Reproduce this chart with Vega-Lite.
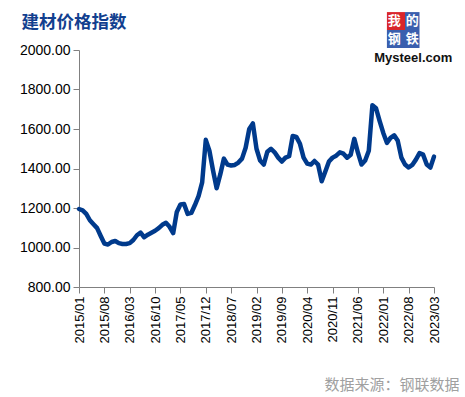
{
  "$schema": "https://vega.github.io/schema/vega-lite/v6.json",
  "width": 355,
  "height": 237,
  "autosize": {"type": "none"},
  "padding": {"left": 79, "top": 50, "right": 31, "bottom": 110},
  "background": "white",
  "title": {
    "text": "建材价格指数",
    "anchor": "start",
    "dx": 2,
    "offset": 0,
    "dy": 19,
    "font": "Noto Sans CJK SC",
    "fontSize": 17.5,
    "fontWeight": "bold",
    "color": "#123f8f"
  },
  "config": {
    "view": {"stroke": null},
    "axis": {"domainColor": "#808080", "tickColor": "#808080", "grid": false, "labelColor": "#000000", "labelFont": "Liberation Sans"}
  },
  "data": {"values": [
    {"m":"2015/01","v":1195},{"m":"2015/02","v":1188},{"m":"2015/03","v":1170},{"m":"2015/04","v":1138},
    {"m":"2015/05","v":1118},{"m":"2015/06","v":1098},{"m":"2015/07","v":1058},{"m":"2015/08","v":1020},
    {"m":"2015/09","v":1015},{"m":"2015/10","v":1028},{"m":"2015/11","v":1033},{"m":"2015/12","v":1022},
    {"m":"2016/01","v":1018},{"m":"2016/02","v":1018},{"m":"2016/03","v":1022},{"m":"2016/04","v":1038},
    {"m":"2016/05","v":1062},{"m":"2016/06","v":1075},{"m":"2016/07","v":1052},{"m":"2016/08","v":1065},
    {"m":"2016/09","v":1075},{"m":"2016/10","v":1085},{"m":"2016/11","v":1098},{"m":"2016/12","v":1115},
    {"m":"2017/01","v":1125},{"m":"2017/02","v":1105},{"m":"2017/03","v":1073},{"m":"2017/04","v":1180},
    {"m":"2017/05","v":1218},{"m":"2017/06","v":1220},{"m":"2017/07","v":1170},{"m":"2017/08","v":1175},
    {"m":"2017/09","v":1215},{"m":"2017/10","v":1260},{"m":"2017/11","v":1330},{"m":"2017/12","v":1545},
    {"m":"2018/01","v":1490},{"m":"2018/02","v":1390},{"m":"2018/03","v":1300},{"m":"2018/04","v":1370},
    {"m":"2018/05","v":1450},{"m":"2018/06","v":1420},{"m":"2018/07","v":1415},{"m":"2018/08","v":1418},
    {"m":"2018/09","v":1430},{"m":"2018/10","v":1450},{"m":"2018/11","v":1505},{"m":"2018/12","v":1600},
    {"m":"2019/01","v":1628},{"m":"2019/02","v":1500},{"m":"2019/03","v":1440},{"m":"2019/04","v":1420},
    {"m":"2019/05","v":1485},{"m":"2019/06","v":1500},{"m":"2019/07","v":1482},{"m":"2019/08","v":1455},
    {"m":"2019/09","v":1435},{"m":"2019/10","v":1455},{"m":"2019/11","v":1462},{"m":"2019/12","v":1565},
    {"m":"2020/01","v":1560},{"m":"2020/02","v":1525},{"m":"2020/03","v":1455},{"m":"2020/04","v":1425},
    {"m":"2020/05","v":1420},{"m":"2020/06","v":1438},{"m":"2020/07","v":1420},{"m":"2020/08","v":1335},
    {"m":"2020/09","v":1385},{"m":"2020/10","v":1435},{"m":"2020/11","v":1455},{"m":"2020/12","v":1465},
    {"m":"2021/01","v":1482},{"m":"2021/02","v":1475},{"m":"2021/03","v":1455},{"m":"2021/04","v":1470},
    {"m":"2021/05","v":1550},{"m":"2021/06","v":1480},{"m":"2021/07","v":1420},{"m":"2021/08","v":1440},
    {"m":"2021/09","v":1490},{"m":"2021/10","v":1720},{"m":"2021/11","v":1705},{"m":"2021/12","v":1640},
    {"m":"2022/01","v":1580},{"m":"2022/02","v":1530},{"m":"2022/03","v":1555},{"m":"2022/04","v":1568},
    {"m":"2022/05","v":1540},{"m":"2022/06","v":1455},{"m":"2022/07","v":1420},{"m":"2022/08","v":1405},
    {"m":"2022/09","v":1418},{"m":"2022/10","v":1445},{"m":"2022/11","v":1478},{"m":"2022/12","v":1470},
    {"m":"2023/01","v":1420},{"m":"2023/02","v":1405},{"m":"2023/03","v":1460}
  ]},
  "layer": [
    {
      "mark": {"type": "line", "color": "#003a8c", "strokeWidth": 4.5, "strokeJoin": "round", "strokeCap": "round"},
      "encoding": {
        "x": {
          "field": "m", "type": "ordinal", "sort": null,
          "scale": {"type": "point", "padding": 0},
          "axis": {
            "values": ["2015/01","2015/08","2016/03","2016/10","2017/05","2017/12","2018/07","2019/02","2019/09","2020/04","2020/11","2021/06","2022/01","2022/08","2023/03"],
            "labelAngle": -90, "labelFontSize": 13, "labelPadding": 3, "tickSize": 6, "labelOverlap": false,
            "title": "数据来源：钢联数据",
            "titleFont": "Noto Sans CJK SC", "titleFontSize": 15, "titleFontWeight": "normal",
            "titleColor": "#a0a0a0", "titleAlign": "right", "titleBaseline": "middle",
            "titleX": 380, "titleY": 97
          }
        },
        "y": {
          "field": "v", "type": "quantitative",
          "scale": {"domain": [800, 2000], "nice": false},
          "axis": {"values": [800,1000,1200,1400,1600,1800,2000], "tickCount": 7, "format": ".2f", "labelFontSize": 14, "tickSize": 6, "labelPadding": 3, "labelOverlap": false, "title": null}
        }
      }
    },
    {
      "data": {"values": [
        {"x1":"2022/02","x2":"2022/07","y1":2101,"y2":2192,"c":"red"},
        {"x1":"2022/07","x2":"2022/11","y1":2101,"y2":2192,"c":"blue"},
        {"x1":"2022/02","x2":"2022/11","y1":2010,"y2":2101,"c":"blue"}
      ]},
      "mark": {"type": "rect", "clip": false},
      "encoding": {
        "x": {"field": "x1", "type": "ordinal"},
        "x2": {"field": "x2"},
        "y": {"field": "y1", "type": "quantitative", "axis": {"values": [800,1000,1200,1400,1600,1800,2000], "tickCount": 7, "format": ".2f", "labelFontSize": 14, "tickSize": 6, "labelPadding": 3, "labelOverlap": false, "title": null}},
        "y2": {"field": "y2"},
        "color": {"field": "c", "type": "nominal", "scale": {"domain": ["red","blue"], "range": ["#d9262b","#3a5fae"]}, "legend": null}
      }
    },
    {
      "data": {"values": [
        {"x":"2022/04","y":2147,"t":"我"},
        {"x":"2022/09","y":2147,"t":"的"},
        {"x":"2022/04","y":2056,"t":"钢"},
        {"x":"2022/09","y":2056,"t":"铁"}
      ]},
      "mark": {"type": "text", "clip": false, "color": "white", "font": "Noto Sans CJK SC", "fontSize": 13, "fontWeight": "bold", "baseline": "middle", "align": "center"},
      "encoding": {
        "x": {"field": "x", "type": "ordinal"},
        "y": {"field": "y", "type": "quantitative", "axis": {"values": [800,1000,1200,1400,1600,1800,2000], "tickCount": 7, "format": ".2f", "labelFontSize": 14, "tickSize": 6, "labelPadding": 3, "labelOverlap": false, "title": null}},
        "text": {"field": "t"}
      }
    },
    {
      "data": {"values": [{"x":"2022/09","y":1962,"t":"Mysteel.com"}]},
      "mark": {"type": "text", "clip": false, "color": "#111111", "font": "Liberation Sans", "fontSize": 13, "fontWeight": "bold", "baseline": "middle", "align": "center", "dx": 1},
      "encoding": {
        "x": {"field": "x", "type": "ordinal"},
        "y": {"field": "y", "type": "quantitative", "axis": {"values": [800,1000,1200,1400,1600,1800,2000], "tickCount": 7, "format": ".2f", "labelFontSize": 14, "tickSize": 6, "labelPadding": 3, "labelOverlap": false, "title": null}},
        "text": {"field": "t"}
      }
    }
  ]
}
